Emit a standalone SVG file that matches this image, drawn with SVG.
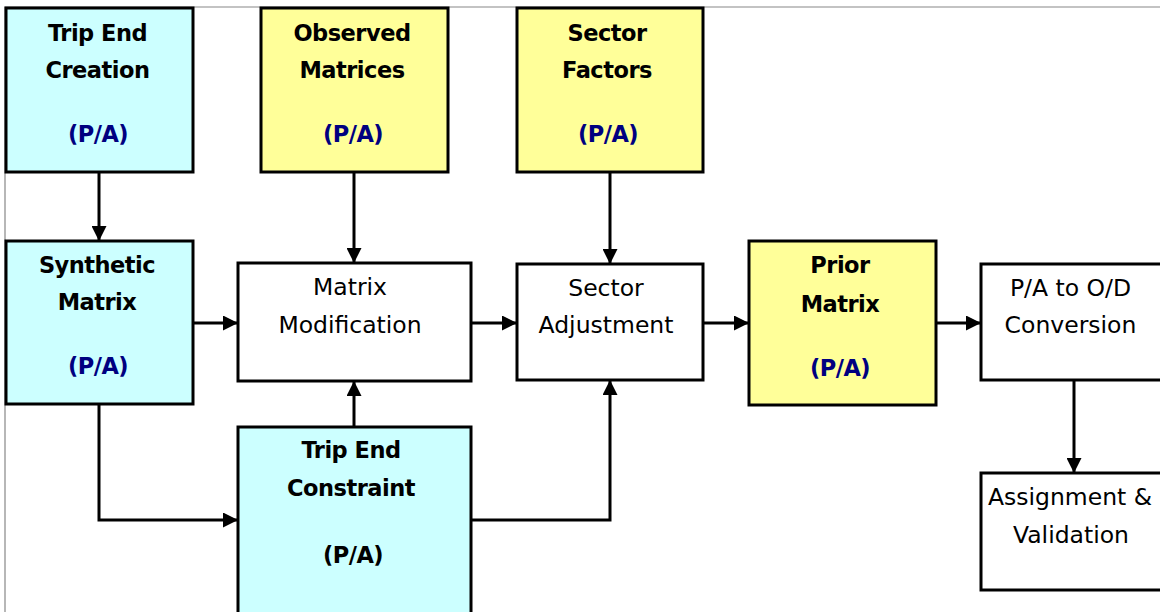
<svg xmlns="http://www.w3.org/2000/svg" width="1160" height="612" viewBox="0 0 1160 612">
<defs>
<style>
.box{stroke:#000;stroke-width:3}
.cyan{fill:#CCFFFF}
.yel{fill:#FFFF99}
.wht{fill:#FFFFFF}
text{font-family:"DejaVu Sans","Liberation Sans",sans-serif;text-anchor:middle}
.b{font-weight:bold;font-size:22.5px;letter-spacing:-0.5px;fill:#000}
.r{font-size:23.5px;fill:#000}
.pa{fill:#000080}
.con{fill:none;stroke:#000;stroke-width:3;marker-end:url(#ah)}
</style>
<marker id="ah" viewBox="0 0 10 10" refX="10" refY="5" markerUnits="userSpaceOnUse" markerWidth="15" markerHeight="15" orient="auto">
<path d="M0,0 L10,5 L0,10 Z" fill="#000"/>
</marker>
</defs>
<rect x="0" y="0" width="1160" height="612" fill="#fff"/>
<path d="M5,612 L5,7 L1160,7" fill="none" stroke="#888" stroke-width="1.2"/>

<g id="connectors">
<path class="con" d="M99,173 L99,241"/>
<path class="con" d="M354,173 L354,263"/>
<path class="con" d="M610,173 L610,264"/>
<path class="con" d="M193,323 L238,323"/>
<path class="con" d="M471,323 L517,323"/>
<path class="con" d="M703,323 L749,323"/>
<path class="con" d="M936,323 L981,323"/>
<path class="con" d="M1074,380 L1074,473"/>
<path class="con" d="M99,404 L99,520 L238,520"/>
<path class="con" d="M354,427 L354,381"/>
<path class="con" d="M471,520 L610,520 L610,380"/>
</g>

<g id="trip-end-creation">
<rect class="box cyan" x="6" y="8" width="187" height="164"/>
<text class="b" x="97.5" y="41">Trip End</text>
<text class="b" x="97.5" y="78">Creation</text>
<text class="b pa" x="98" y="142">(P/A)</text>
</g>

<g id="observed-matrices">
<rect class="box yel" x="261" y="8" width="187" height="164"/>
<text class="b" x="352" y="41">Observed</text>
<text class="b" x="352" y="78">Matrices</text>
<text class="b pa" x="353" y="142">(P/A)</text>
</g>

<g id="sector-factors">
<rect class="box yel" x="517" y="8" width="186" height="164"/>
<text class="b" x="607" y="41">Sector</text>
<text class="b" x="607" y="78">Factors</text>
<text class="b pa" x="608" y="142">(P/A)</text>
</g>

<g id="synthetic-matrix">
<rect class="box cyan" x="6" y="241" width="187" height="163"/>
<text class="b" x="97" y="273">Synthetic</text>
<text class="b" x="97" y="310">Matrix</text>
<text class="b pa" x="98" y="374">(P/A)</text>
</g>

<g id="matrix-modification">
<rect class="box wht" x="238" y="263" width="233" height="118"/>
<text class="r" x="350" y="295">Matrix</text>
<text class="r" x="350" y="333">Modification</text>
</g>

<g id="trip-end-constraint">
<rect class="box cyan" x="238" y="427" width="233" height="190"/>
<text class="b" x="351" y="458">Trip End</text>
<text class="b" x="351" y="496">Constraint</text>
<text class="b" x="353" y="563">(P/A)</text>
</g>

<g id="sector-adjustment">
<rect class="box wht" x="517" y="264" width="186" height="116"/>
<text class="r" x="606" y="296">Sector</text>
<text class="r" x="606" y="333">Adjustment</text>
</g>

<g id="prior-matrix">
<rect class="box yel" x="749" y="241" width="187" height="164"/>
<text class="b" x="840" y="273">Prior</text>
<text class="b" x="840" y="312">Matrix</text>
<text class="b pa" x="840" y="376">(P/A)</text>
</g>

<g id="pa-to-od">
<rect class="box wht" x="981" y="264" width="190" height="116"/>
<text class="r" x="1070.5" y="296">P/A to O/D</text>
<text class="r" x="1070.5" y="333">Conversion</text>
</g>

<g id="assignment-validation">
<rect class="box wht" x="981" y="473" width="190" height="117"/>
<text class="r" x="1070" y="505">Assignment &amp;</text>
<text class="r" x="1071" y="543">Validation</text>
</g>
</svg>
